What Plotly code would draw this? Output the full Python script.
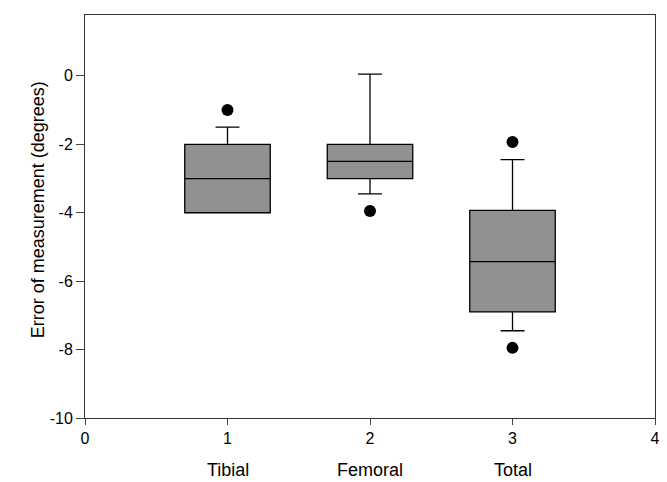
import plotly.graph_objects as go

positions = [1, 2, 3]
categories = ["Tibial", "Femoral", "Total"]
q1 = [-4.0, -3.0, -6.9]
median = [-3.0, -2.5, -5.43]
q3 = [-2.0, -2.0, -3.93]
lower_whisker = [-4.0, -3.45, -7.45]
upper_whisker = [-1.5, 0.05, -2.45]
outlier_x = [1, 2, 3, 3]
outlier_y = [-1.0, -3.95, -1.93, -7.95]

x_ticks = [0, 1, 2, 3, 4]
x_tick_labels = ["0", "1", "2", "3", "4"]
y_ticks = [-10, -8, -6, -4, -2, 0]
y_tick_labels = ["-10", "-8", "-6", "-4", "-2", "0"]

fig = go.Figure()
fig.add_trace(go.Box(
    x=positions, q1=q1, median=median, q3=q3,
    lowerfence=lower_whisker, upperfence=upper_whisker,
    width=0.6, whiskerwidth=0.28,
    fillcolor="rgb(145,145,145)",
    line=dict(color="black", width=1.3),
    boxpoints=False, showlegend=False, hoverinfo="skip",
))
fig.add_trace(go.Scatter(
    x=outlier_x, y=outlier_y, mode="markers",
    marker=dict(color="black", size=12, symbol="circle"),
    showlegend=False,
))

font_family = "Liberation Sans, Arial, sans-serif"
for p, c in zip(positions, categories):
    fig.add_annotation(x=p, y=-0.13, xref="x", yref="paper", text=c,
                       showarrow=False, yanchor="middle",
                       font=dict(family=font_family, size=18, color="black"))

fig.add_annotation(x=-0.082, y=0.516, xref="paper", yref="paper",
                   text="Error of measurement (degrees)", textangle=-90,
                   showarrow=False, xanchor="center", yanchor="middle",
                   font=dict(family=font_family, size=18, color="black"))

# page has an 8px body margin, so the figure is sized/offset to compensate
fig.update_layout(
    width=659, height=474,
    margin=dict(l=77, r=12, t=7, b=64),
    paper_bgcolor="white", plot_bgcolor="white",
    font=dict(family=font_family, size=16, color="black"),
    xaxis=dict(range=[0, 4], tickvals=x_ticks, ticktext=x_tick_labels,
               ticks="outside", ticklen=6,
               showline=True, mirror=True, linecolor="#333", linewidth=1,
               showgrid=False, zeroline=False, tickfont=dict(size=16),
               automargin=False),
    yaxis=dict(range=[-10, 1.78], tickvals=y_ticks, ticktext=y_tick_labels,
               ticks="outside", ticklen=8,
               showline=True, mirror=True, linecolor="#333", linewidth=1,
               showgrid=False, zeroline=False, tickfont=dict(size=16),
               automargin=False),
)

fig.write_html("out.html")
